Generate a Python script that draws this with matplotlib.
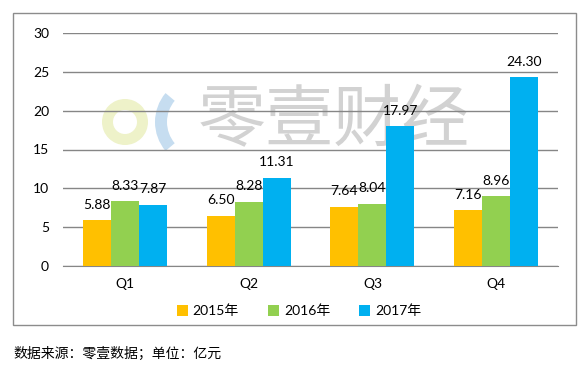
import matplotlib
matplotlib.use("Agg")
import matplotlib.pyplot as plt
from matplotlib.patches import Wedge, Rectangle
import numpy as np

plt.rcParams['font.family'] = ['Lato', 'Noto Sans CJK SC', 'DejaVu Sans']

categories = ["Q1", "Q2", "Q3", "Q4"]
series_names = ["2015年", "2016年", "2017年"]
v2015 = [5.88, 6.50, 7.64, 7.16]
v2016 = [8.33, 8.28, 8.04, 8.96]
v2017 = [7.87, 11.31, 17.97, 24.30]
colors = ["#FFC000", "#92D050", "#00B0F0"]
yticks = [0, 5, 10, 15, 20, 25, 30]
source_text = "数据来源：零壹数据；单位：亿元"
watermark = "零壹财经"

W, H = 586, 372
fig = plt.figure(figsize=(W / 100, H / 100), dpi=100)

# background layer in pixel coordinates
bg = fig.add_axes([0, 0, 1, 1], zorder=-1)
bg.set_xlim(0, W)
bg.set_ylim(H, 0)
bg.axis("off")
bg.add_patch(Rectangle((13, 13), 563, 312, fill=False, edgecolor="#8c8c8c", linewidth=1.0))
bg.add_patch(Wedge((125, 122), 23, 0, 360, width=11, facecolor="#EEF2C9", edgecolor="none"))
bg.add_patch(Wedge((200, 122), 45, 140, 220, width=12, facecolor="#C6DDF0", edgecolor="none"))
bg.text(334, 122, watermark, fontsize=49, color="#D2D2D2", ha="center", va="center",
        family=["Noto Sans CJK SC"])
bg.text(13, 354, source_text, fontsize=10, color="#000000", ha="left", va="center",
        family=["Noto Sans CJK SC"])

ax = fig.add_axes([63 / W, 1 - 266 / H, (558 - 63) / W, (266 - 33) / H])
ax.patch.set_visible(False)

x = np.arange(len(categories))
bw = 0.226
for i, (vals, name, c) in enumerate(zip([v2015, v2016, v2017], series_names, colors)):
    bars = ax.bar(x + (i - 1) * bw, vals, bw, color=c, label=name, zorder=3)
    for b, v in zip(bars, vals):
        ax.annotate(f"{v:.2f}", (b.get_x() + b.get_width() / 2, v), xytext=(0, 7),
                    textcoords="offset points", ha="center", va="bottom",
                    fontsize=10, color="#000000", zorder=4)

ax.set_xlim(-0.5, len(categories) - 0.5)
ax.set_ylim(0, 30)
ax.set_yticks(yticks)
ax.set_yticklabels([str(t) for t in yticks], fontsize=10)
ax.set_xticks(x)
ax.set_xticklabels(categories, fontsize=10)
ax.tick_params(axis="y", length=0, pad=10)
ax.tick_params(axis="x", length=0, pad=9)
ax.grid(axis="y", color="#868686", linewidth=1.0, zorder=1)
ax.set_axisbelow(True)
for s in ["top", "right", "left"]:
    ax.spines[s].set_visible(False)
ax.spines["bottom"].set_color("#868686")

ax.legend(loc="center", bbox_to_anchor=(299 / W, (H - 311) / H), bbox_transform=fig.transFigure,
          ncol=3, frameon=False, fontsize=10, handlelength=0.8, handleheight=0.8,
          handletextpad=0.35, columnspacing=2.1)

fig.savefig("out.png", dpi=100)
